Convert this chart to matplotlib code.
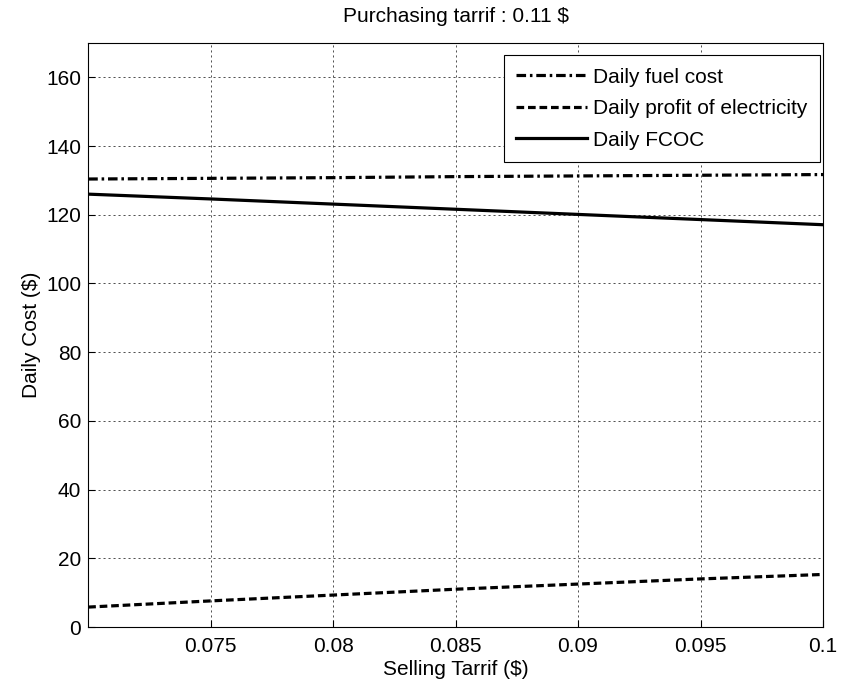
import numpy as np
import matplotlib.pyplot as plt

plt.rcParams['font.family'] = ['Liberation Sans', 'DejaVu Sans']

# Selling tariff ($) and daily values ($)
selling_tariff = [0.070, 0.075, 0.080, 0.085, 0.090, 0.095, 0.100]
fuel_cost = [130.4, 130.6, 130.8, 131.1, 131.3, 131.5, 131.7]
electricity_profit = [5.8, 7.6, 9.3, 11.0, 12.5, 14.0, 15.3]
daily_fcoc = [126.0, 124.6, 123.1, 121.6, 120.1, 118.6, 117.1]

x_ticks = [0.075, 0.08, 0.085, 0.09, 0.095, 0.1]
x_tick_labels = ['0.075', '0.08', '0.085', '0.09', '0.095', '0.1']
y_ticks = list(range(0, 161, 20))

fs = 15

fig = plt.figure(figsize=(8.48, 6.91), dpi=100)
ax = fig.add_axes([0.104, 0.0926, 0.8665, 0.8452])

ax.plot(selling_tariff, fuel_cost, color='black', lw=2.3,
        linestyle=(0, (3, 1.2, 0.8, 1.2)), label='Daily fuel cost')
ax.plot(selling_tariff, electricity_profit, color='black', lw=2.3,
        linestyle=(0, (2.4, 1.2)), label='Daily profit of electricity')
ax.plot(selling_tariff, daily_fcoc, color='black', lw=2.3,
        linestyle='-', label='Daily FCOC')

ax.set_xlim(0.07, 0.1)
ax.set_ylim(0, 170)
ax.set_xticks(x_ticks)
ax.set_xticklabels(x_tick_labels)
ax.set_yticks(y_ticks)
ax.tick_params(direction='in', labelsize=fs, length=5, width=0.8)
ax.tick_params(axis='x', pad=7)
ax.tick_params(axis='y', pad=5)
ax.grid(True, color='#333333', linestyle=(0, (2.5, 3.5)), linewidth=0.6)

for spine in ax.spines.values():
    spine.set_linewidth(0.8)

ax.set_xlabel('Selling Tarrif ($)', fontsize=fs, labelpad=3)
ax.set_ylabel('Daily Cost ($)', fontsize=fs, labelpad=4)
ax.set_title('Purchasing tarrif : 0.11 $', fontsize=fs, pad=15)

leg = ax.legend(loc='upper right', bbox_to_anchor=(0.996, 0.979),
                fontsize=fs, frameon=True, fancybox=False,
                edgecolor='black', framealpha=1, handlelength=3.4,
                borderaxespad=0, borderpad=0.6, labelspacing=0.6,
                handletextpad=0.3)
leg.get_frame().set_linewidth(0.8)

fig.savefig('out.png', dpi=100)
